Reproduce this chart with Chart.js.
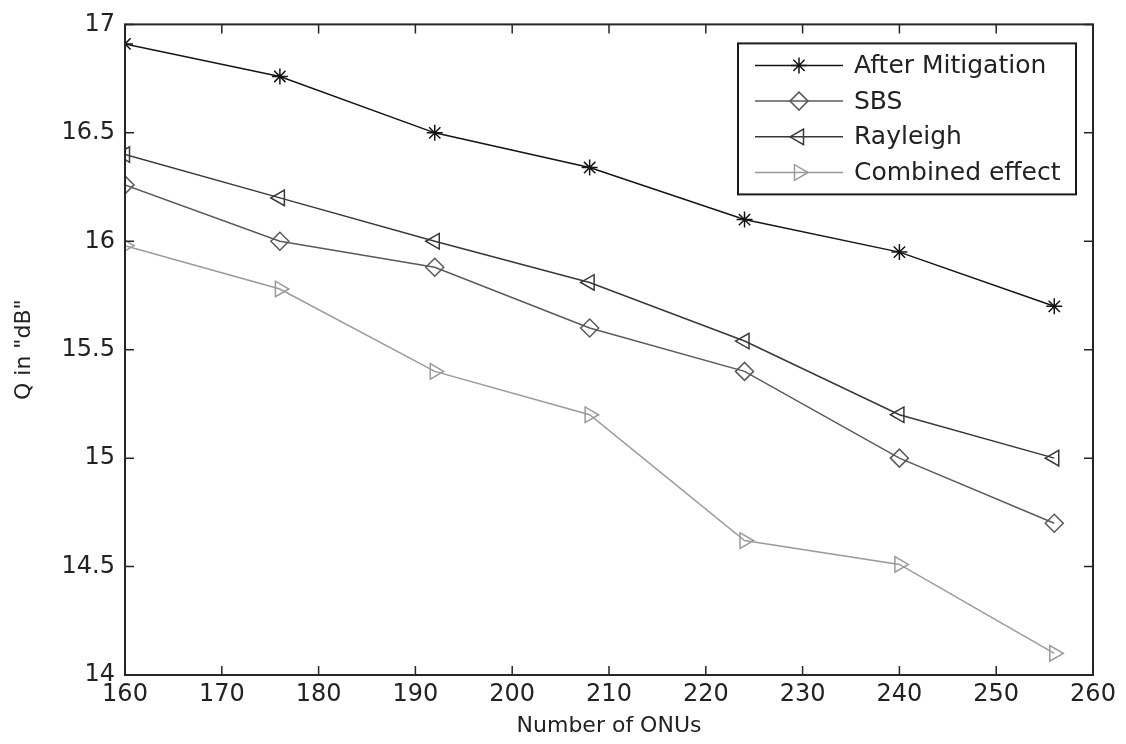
<!DOCTYPE html>
<html>
<head>
<meta charset="utf-8">
<script src="https://cdn.jsdelivr.net/npm/chart.js@4/dist/chart.umd.min.js"></script>
<style>
  html, body { margin: 0; padding: 0; background: #fff; }
  #wrap { width: 1126px; height: 744px; }
</style>
</head>
<body>
<div id="wrap"><canvas id="myChart" width="1126" height="744"></canvas></div>
<script>
// data
var onus       = [160, 176, 192, 208, 224, 240, 256];
var mitigation = [16.91, 16.76, 16.50, 16.34, 16.10, 15.95, 15.70];
var sbs        = [16.26, 16.00, 15.88, 15.60, 15.40, 15.00, 14.70];
var rayleigh   = [16.40, 16.20, 16.00, 15.81, 15.54, 15.20, 15.00];
var combined   = [15.98, 15.78, 15.40, 15.20, 14.62, 14.51, 14.10];

var xTicks = [160, 170, 180, 190, 200, 210, 220, 230, 240, 250, 260];
var yTicks = [14, 14.5, 15, 15.5, 16, 16.5, 17];

var FONT = 'DejaVu Sans';

function pts(ys) {
	return onus.map((x, i) => ({ x: x, y: ys[i] }));
}

function series(label, ys, color, style, radius, rotation) {
	return {
		label            : label,
		data             : pts(ys),
		borderColor      : color,
		backgroundColor  : 'rgba(0,0,0,0)',
		borderWidth      : 1.5,
		pointStyle       : style,
		pointRadius      : radius,
		pointRotation    : rotation,
		pointBorderWidth : 1.5,
		pointBorderColor : color,
		pointBackgroundColor : 'rgba(0,0,0,0)',
		tension          : 0,
		fill             : false
	};
}

// matlab style box with inward ticks, plus the legend
var boxPlugin = {
	id: 'box',
	afterDatasetsDraw(chart) {
		var ctx = chart.ctx, a = chart.chartArea;
		var xs = chart.scales.x, ys = chart.scales.y;
		ctx.save();
		ctx.strokeStyle = '#262626';
		ctx.lineWidth = 2;
		ctx.strokeRect(a.left, a.top, a.right - a.left, a.bottom - a.top);
		ctx.lineWidth = 1.5;
		ctx.beginPath();
		xTicks.forEach(v => {
			var px = xs.getPixelForValue(v);
			ctx.moveTo(px, a.bottom); ctx.lineTo(px, a.bottom - 9);
			ctx.moveTo(px, a.top);    ctx.lineTo(px, a.top + 9);
		});
		yTicks.forEach(v => {
			var py = ys.getPixelForValue(v);
			ctx.moveTo(a.left, py);  ctx.lineTo(a.left + 9, py);
			ctx.moveTo(a.right, py); ctx.lineTo(a.right - 9, py);
		});
		ctx.stroke();

		// legend
		var lx = a.right - 355, ly = a.top + 19, lw = 338, lh = 151;
		ctx.fillStyle = '#fff';
		ctx.fillRect(lx, ly, lw, lh);
		ctx.strokeStyle = '#1a1a1a';
		ctx.lineWidth = 2;
		ctx.strokeRect(lx, ly, lw, lh);
		ctx.font = '25px "' + FONT + '"';
		ctx.textBaseline = 'middle';
		chart.data.datasets.forEach((ds, i) => {
			var y = ly + 22 + i * 35.7;
			ctx.strokeStyle = ds.borderColor;
			ctx.lineWidth = 1.5;
			ctx.beginPath();
			ctx.moveTo(lx + 17, y); ctx.lineTo(lx + 105, y);
			ctx.stroke();
			ctx.fillStyle = 'rgba(0,0,0,0)';
			Chart.helpers.drawPoint(ctx, {
				pointStyle  : ds.pointStyle,
				radius      : ds.pointRadius,
				rotation    : ds.pointRotation,
				borderWidth : 1.5
			}, lx + 61, y);
			ctx.fillStyle = '#222';
			ctx.fillText(ds.label, lx + 116, y + 1);
		});
		ctx.restore();
	}
};

var ctx = document.getElementById('myChart');
var myChart = new Chart(ctx, {
	type: 'line',
	data: {
		datasets: [
			series('After Mitigation', mitigation, '#141414', 'star', 8, 0),
			series('SBS', sbs, '#5a5a5a', 'rectRot', 9, 0),
			series('Rayleigh', rayleigh, '#383838', 'triangle', 9, -90),
			series('Combined effect', combined, '#9a9a9a', 'triangle', 9, 90)
		]
	},
	options: {
		responsive: false,
		animation: false,
		layout: { padding: { left: 0, right: 33, top: 21, bottom: 4 } },
		plugins: {
			legend: { display: false },
			tooltip: { enabled: false }
		},
		scales: {
			x: {
				type: 'linear',
				min: 160,
				max: 260,
				afterBuildTicks: s => { s.ticks = xTicks.map(v => ({ value: v })); },
				afterFit: s => { s.height = 744 - 675 - 4; },
				grid: { display: false, drawTicks: false },
				border: { display: false },
				ticks: {
					color: '#222',
					padding: 5,
					font: { family: FONT, size: 24 },
					maxRotation: 0,
					callback: v => String(v)
				},
				title: {
					display: true,
					text: 'Number of ONUs',
					color: '#222',
					font: { family: FONT, size: 22 },
					padding: { top: 0, bottom: 1 }
				}
			},
			y: {
				type: 'linear',
				min: 14,
				max: 17,
				afterBuildTicks: s => { s.ticks = yTicks.map(v => ({ value: v })); },
				afterFit: s => { s.width = 125; },
				grid: { display: false, drawTicks: false },
				border: { display: false },
				ticks: {
					color: '#222',
					padding: 10,
					font: { family: FONT, size: 24 },
					callback: v => String(v)
				},
				title: {
					display: true,
					text: 'Q in "dB"',
					color: '#222',
					font: { family: FONT, size: 22 },
					padding: { top: 11, bottom: 0 }
				}
			}
		}
	},
	plugins: [boxPlugin]
});
</script>
</body>
</html>
